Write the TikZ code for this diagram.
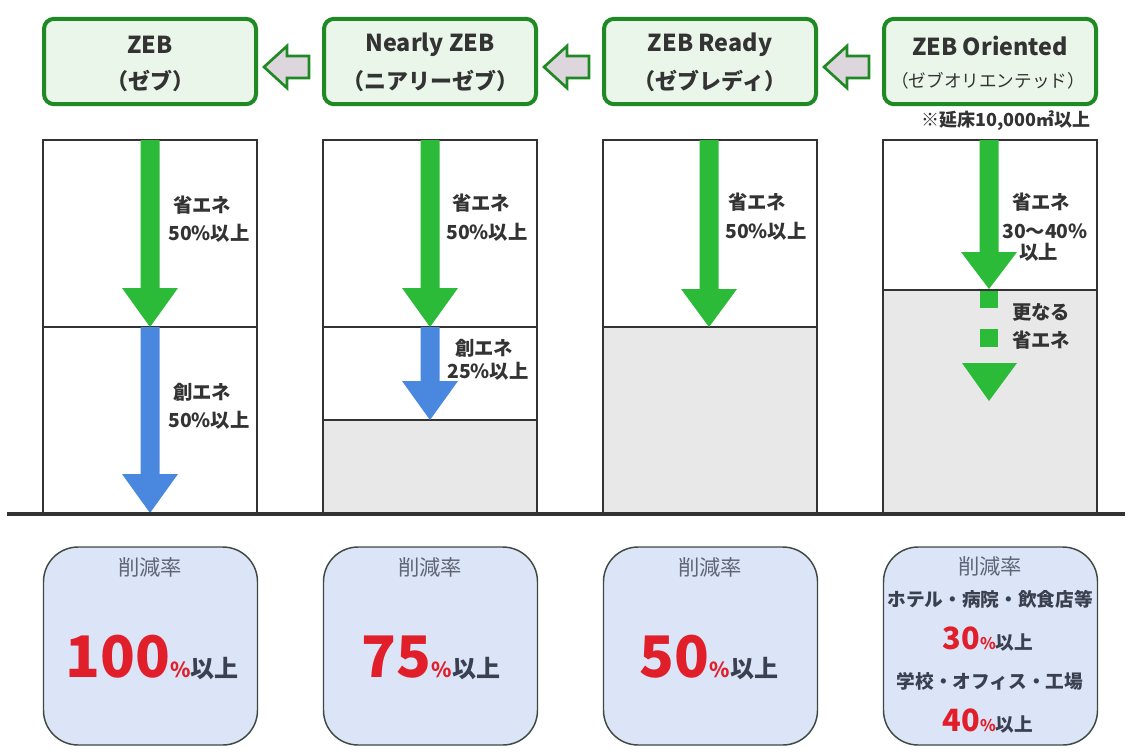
\documentclass[tikz,border=0pt]{standalone}
\usepackage{fontspec}
\setmainfont{Noto Sans CJK JP}
\usetikzlibrary{calc}
\definecolor{boxgreen}{HTML}{1F8A24}
\definecolor{boxfill}{HTML}{EAF6EA}
\definecolor{arrgreen}{HTML}{2CBB38}
\definecolor{arrblue}{HTML}{4A88E0}
\definecolor{greyfill}{HTML}{E8E8E8}
\definecolor{botfill}{HTML}{DCE5F7}
\definecolor{botline}{HTML}{3E4A40}
\definecolor{numred}{HTML}{E01F2B}
\definecolor{txt}{HTML}{333333}
\definecolor{labgray}{HTML}{5F6575}
\definecolor{darktxt}{HTML}{3A4050}
\definecolor{hollowfill}{HTML}{DDD6DC}
\newcommand{\dnarrow}[5]{\fill[#5] ({#1-9.5},#2) -- ({#1+9.5},#2) -- ({#1+9.5},#3) -- ({#1+28},#3) -- (#1,#4) -- ({#1-28},#3) -- ({#1-9.5},#3) -- cycle;}
\newcommand{\hollowarr}[2]{\draw[hollow] (#1,#2) -- ({#1+23},{#2-21}) -- ({#1+23},{#2-11}) -- ({#1+45},{#2-11}) -- ({#1+45},{#2+11}) -- ({#1+23},{#2+11}) -- ({#1+23},{#2+21}) -- cycle;}
\tikzset{
  topbox/.style={draw=boxgreen, line width=3pt, fill=boxfill, rounded corners=7.5pt, minimum width=159pt, minimum height=64pt, inner sep=0pt},
  titletxt/.style={font=\fontsize{17.5}{18}\selectfont\bfseries, text=txt, inner sep=0pt},
  subtxt/.style={font=\fontsize{16.5}{17}\selectfont\bfseries, text=txt, inner sep=0pt},
  colbox/.style={draw=txt, line width=0.9pt, minimum width=160.5pt, minimum height=279.75pt, inner sep=0pt},
  divline/.style={draw=txt, line width=0.9pt},
  hollow/.style={draw=boxgreen, line width=2pt, fill=hollowfill, line join=miter},
  lab/.style={font=\fontsize{14.5}{15}\selectfont\bfseries, text=txt, inner sep=0pt, anchor=west},
  botbox/.style={draw=botline, line width=1.1pt, fill=botfill, rounded corners=26pt, minimum width=160.5pt, minimum height=148.5pt, inner sep=0pt},
  ratetxt/.style={font=\fontsize{16}{16}\selectfont, text=labgray, inner sep=0pt},
  bignum/.style={inner sep=0pt, anchor=base},
  bldtxt/.style={font=\fontsize{14}{14}\selectfont\bfseries, text=darktxt, inner sep=0pt},
}
\newcommand{\bigpct}[1]{{\fontsize{43}{43}\selectfont\bfseries\color{numred}#1}{\fontsize{15.5}{15}\selectfont\bfseries\color{numred}\%}{\fontsize{18}{17}\selectfont\bfseries\color{darktxt}以上}}
\newcommand{\midpct}[1]{{\fontsize{23}{23}\selectfont\bfseries\color{numred}#1}{\fontsize{12}{12}\selectfont\bfseries\color{numred}\%}{\fontsize{14}{14}\selectfont\bfseries\color{darktxt}以上}}
\begin{document}
\begin{tikzpicture}[x=0.75pt,y=-0.75pt]
\useasboundingbox (0,0) rectangle (1129,754);
\fill[white] (0,0) rectangle (1129,754);
% top boxes
\node[topbox] (t1) at (150,61.5) {};
\node[topbox] (t2) at (430,61.5) {};
\node[topbox] (t3) at (710,61.5) {};
\node[topbox] (t4) at (990,61.5) {};
\node[titletxt] (t1a) at (150,45) {ZEB};
\node[subtxt] (t1b) at (150,81) {（ゼブ）};
\node[titletxt] (t2a) at (430,45) {Nearly ZEB};
\node[subtxt] (t2b) at (430,81) {（ニアリーゼブ）};
\node[titletxt] (t3a) at (710,45) {ZEB Ready};
\node[subtxt] (t3b) at (710,81) {（ゼブレディ）};
\node[titletxt] (t4a) at (990,46) {ZEB Oriented};
\node[font=\fontsize{13.2}{13}\selectfont, text=txt, inner sep=0pt] (t4b) at (988,81) {（ゼブオリエンテッド）};
\node[font=\fontsize{13.5}{14}\selectfont\bfseries, text=txt, inner sep=0pt, anchor=east] (note) at (1091,121) {※延床10,000㎡以上};
% hollow arrows
\hollowarr{264}{67}
\hollowarr{544}{67}
\hollowarr{824}{67}
% grey fills
\fill[greyfill] (323,420) rectangle (537,513);
\fill[greyfill] (603,327) rectangle (817,513);
\fill[greyfill] (883,290) rectangle (1097,513);
% columns
\node[colbox] (c1) at (150,326.5) {};
\node[colbox] (c2) at (430,326.5) {};
\node[colbox] (c3) at (710,326.5) {};
\node[colbox] (c4) at (990,326.5) {};
\draw[divline] (c1.west |- 0,327) -- (c1.east |- 0,327);
\draw[divline] (c2.west |- 0,327) -- (c2.east |- 0,327);
\draw[divline] (c2.west |- 0,420) -- (c2.east |- 0,420);
\draw[divline] (c3.west |- 0,327) -- (c3.east |- 0,327);
\draw[divline] (c4.west |- 0,290) -- (c4.east |- 0,290);
% arrows
\dnarrow{150}{140}{288}{327}{arrgreen}
\dnarrow{150}{327}{474}{513}{arrblue}
\dnarrow{430}{140}{288}{327}{arrgreen}
\dnarrow{430}{327}{381}{420}{arrblue}
\dnarrow{709}{140}{289}{327}{arrgreen}
\dnarrow{989}{140}{252}{289}{arrgreen}
\fill[arrgreen] (980,291) rectangle (998,308);
\fill[arrgreen] (980,329) rectangle (998,347);
\fill[arrgreen] (962,363) -- (1017,363) -- (989,401) -- cycle;
% labels
\node[lab] (l1a) at (173,205) {省エネ};
\node[lab] (l1b) at (168,233) {50\%以上};
\node[lab] (l1c) at (173,392) {創エネ};
\node[lab] (l1d) at (168,420) {50\%以上};
\node[lab] (l2a) at (452,203) {省エネ};
\node[lab] (l2b) at (446,232) {50\%以上};
\node[lab] (l2c) at (455,348) {創エネ};
\node[lab] (l2d) at (447,371) {25\%以上};
\node[lab] (l3a) at (728,202) {省エネ};
\node[lab] (l3b) at (725,231) {50\%以上};
\node[lab] (l4a) at (1012,202) {省エネ};
\node[lab] (l4b) at (1002,231) {30〜40\%};
\node[lab] (l4c) at (1019,252) {以上};
\node[lab] (l4d) at (1012,312) {更なる};
\node[lab] (l4e) at (1012,340) {省エネ};
% ground line
\draw[draw=txt, line width=2.6pt] (7,514) -- (1125,514);
% bottom boxes
\node[botbox] (b1) at (150.5,646) {};
\node[botbox] (b2) at (430.5,646) {};
\node[botbox] (b3) at (710.5,646) {};
\node[botbox] (b4) at (990.5,646) {};
\node[ratetxt] (r1) at (150,567) {削減率};
\node[ratetxt] (r2) at (430,567) {削減率};
\node[ratetxt] (r3) at (710,567) {削減率};
\node[ratetxt] (r4) at (990,566) {削減率};
\node[bignum] (n1) at (152,677) {\bigpct{100}};
\node[bignum] (n2) at (431,677) {\bigpct{75}};
\node[bignum] (n3) at (709,677) {\bigpct{50}};
\node[bldtxt] (h4) at (990,599) {ホテル・病院・飲食店等};
\node[bignum] (n4a) at (988,649) {\midpct{30}};
\node[bldtxt] (s4) at (990,681) {学校・オフィス・工場};
\node[bignum] (n4b) at (988,731) {\midpct{40}};
\end{tikzpicture}
\end{document}
